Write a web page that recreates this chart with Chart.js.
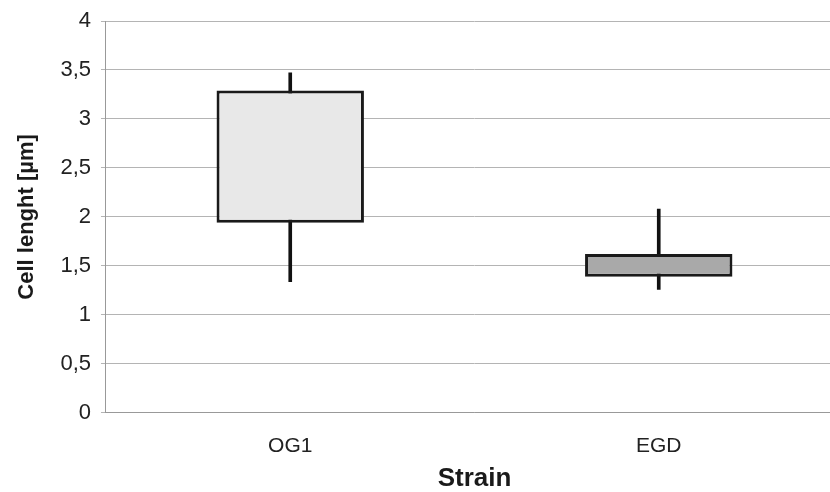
<!DOCTYPE html>
<html>
<head>
<meta charset="utf-8">
<script src="https://cdn.jsdelivr.net/npm/chart.js@4/dist/chart.umd.min.js"></script>
<style>
  html, body { margin: 0; padding: 0; background: #fff; overflow: hidden; }
  #wrap { width: 843px; height: 492px; position: relative; }
</style>
</head>
<body>
<div id="wrap"><canvas id="chart"></canvas></div>
<script>
// Data
const strains = ['OG1', 'EGD'];
const boxLow = [1.94, 1.39];
const boxHigh = [3.29, 1.62];
const whiskerLow = [1.34, 1.26];
const whiskerHigh = [3.47, 2.08];
const boxColors = ['#e8e8e8', '#a9a9a9'];

const ctx = document.getElementById('chart').getContext('2d');

new Chart(ctx, {
  type: 'bar',
  data: {
    labels: strains,
    datasets: [
      {
        label: 'Box',
        data: strains.map((s, i) => [boxLow[i], boxHigh[i]]),
        backgroundColor: boxColors,
        borderColor: '#1a1a1a',
        borderWidth: 3,
        borderSkipped: false,
        grouped: false,
        barPercentage: 0.4,
        categoryPercentage: 1,
        order: 0
      },
      {
        label: 'Whisker',
        data: strains.map((s, i) => [whiskerLow[i], whiskerHigh[i]]),
        backgroundColor: '#111',
        borderWidth: 0,
        grouped: false,
        barThickness: 3,
        order: 1
      }
    ]
  },
  options: {
    responsive: true,
    maintainAspectRatio: false,
    animation: false,
    layout: { padding: { top: 0, right: 0, left: 11, bottom: 0 } },
    plugins: {
      legend: { display: false },
      tooltip: { enabled: false }
    },
    scales: {
      x: {
        grid: { display: false, drawTicks: false },
        border: { color: '#999', width: 1 },
        ticks: {
          color: '#222',
          padding: 21,
          font: { family: 'Liberation Sans', size: 21 }
        },
        title: {
          display: true,
          text: 'Strain',
          color: '#1a1a1a',
          padding: { top: -14, bottom: 0 },
          font: { family: 'Liberation Sans', size: 26, weight: 'bold', lineHeight: 1 }
        }
      },
      y: {
        min: 0,
        max: 4,
        grid: { color: '#b4b4b4', lineWidth: 1, tickLength: 5 },
        border: { color: '#999', width: 1 },
        ticks: {
          stepSize: 0.5,
          color: '#222',
          padding: 10,
          font: { family: 'Liberation Sans', size: 22, lineHeight: 1 },
          callback: v => String(v).replace('.', ',')
        },
        title: {
          display: true,
          text: 'Cell lenght [µm]',
          color: '#1a1a1a',
          padding: { top: 3, bottom: 10 },
          font: { family: 'Liberation Sans', size: 22, weight: 'bold' }
        }
      }
    }
  }
});
</script>
</body>
</html>
